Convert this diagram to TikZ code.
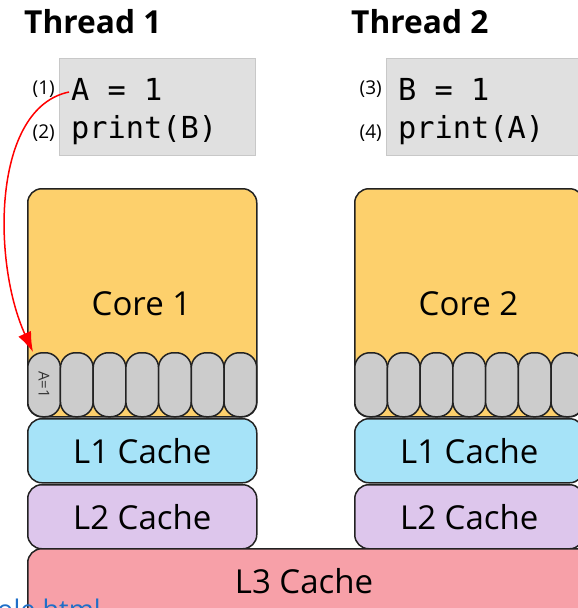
\documentclass[tikz,border=0pt]{standalone}
\usepackage{fontspec}
\setmainfont{Open Sans}
\setmonofont{DejaVu Sans Mono}
\usetikzlibrary{arrows.meta}
\definecolor{corecol}{HTML}{FDD06C}
\definecolor{regcol}{HTML}{CCCCCC}
\definecolor{lonecol}{HTML}{A6E3F8}
\definecolor{ltwocol}{HTML}{DDC6EC}
\definecolor{lthreecol}{HTML}{F7A0A8}
\definecolor{codefill}{HTML}{E0E0E0}
\definecolor{codeedge}{HTML}{C8C8C8}
\definecolor{linkcol}{HTML}{1F6FC8}
\definecolor{edgecol}{HTML}{222222}
\tikzset{
  unitbox/.style={draw=edgecol, line width=1.5pt, rounded corners=14pt,
    inner sep=0pt, anchor=north west, font=\fontsize{33}{35}\selectfont},
  unitlabel/.style={inner sep=0pt, font=\fontsize{33}{35}\selectfont},
  regbox/.style={draw=edgecol, line width=1.5pt, fill=regcol, rounded corners=15pt,
    inner sep=0pt, anchor=north west, minimum width=32.7pt, minimum height=64pt},
  codebox/.style={draw=codeedge, line width=0.8pt, fill=codefill, inner sep=0pt,
    anchor=north west, minimum width=196pt, minimum height=97pt},
  codeline/.style={anchor=west, inner sep=0pt, font=\ttfamily\fontsize{30.3}{32}\selectfont},
  stepnum/.style={anchor=east, inner sep=0pt, font=\fontsize{19}{20}\selectfont},
  threadtitle/.style={anchor=west, inner sep=0pt, font=\bfseries\fontsize{31.7}{33}\selectfont},
}
\begin{document}
\begin{tikzpicture}[x=1pt,y=-1pt]
\useasboundingbox (0,0) rectangle (578,608);
\clip (0,0) rectangle (578,608);

% thread titles
\node[threadtitle] (t1) at (24,22) {Thread 1};
\node[threadtitle] (t2) at (351,22) {Thread 2};

% code listings
\node[codebox] (code1) at (59,58) {};
\node[codebox] (code2) at (386,58) {};
\node[codeline] (a1) at (71,89) {A = 1};
\node[codeline] (a2) at (71,130) {print(B)};
\node[codeline] (b1) at (398,89) {B = 1};
\node[codeline] (b2) at (398,130) {print(A)};
\node[stepnum] (n1) at (55,89) {(1)};
\node[stepnum] (n2) at (55,133) {(2)};
\node[stepnum] (n3) at (382,89) {(3)};
\node[stepnum] (n4) at (382,133) {(4)};

% cores
\node[unitbox, fill=corecol, minimum width=229pt, minimum height=228pt] (core1) at (27,188) {};
\node[unitbox, fill=corecol, minimum width=229pt, minimum height=228pt] (core2) at (354,188) {};
\node[unitlabel] (c1lbl) at (141.5,304) {Core 1};
\node[unitlabel] (c2lbl) at (468.5,304) {Core 2};

% registers
\foreach \i in {0,...,6} {
  \node[regbox] (ra\i) at (27+\i*32.71,352) {};
  \node[regbox] (rb\i) at (354+\i*32.71,352) {};
}
\node[rotate=-90, inner sep=0pt, text=black!80, font=\fontsize{15}{16}\selectfont] (aval) at (ra0.center) {A=1};

% caches
\node[unitbox, fill=lonecol, minimum width=229pt, minimum height=64pt] (l1a) at (27,418) {L1 Cache};
\node[unitbox, fill=lonecol, minimum width=229pt, minimum height=64pt] (l1b) at (354,418) {L1 Cache};
\node[unitbox, fill=ltwocol, minimum width=229pt, minimum height=64pt] (l2a) at (27,484) {L2 Cache};
\node[unitbox, fill=ltwocol, minimum width=229pt, minimum height=64pt] (l2b) at (354,484) {L2 Cache};
\node[unitbox, fill=lthreecol, minimum width=600pt, minimum height=100pt] (l3) at (27,548) {};
\node[unitlabel] (l3lbl) at (304,581) {L3 Cache};

% link fragment
\node[anchor=base west, inner sep=0pt, text=linkcol, font=\fontsize{27}{28}\selectfont] (link) at (-3,619) {ole.html};

% store of A travelling to the register
\coordinate (src) at (69,92);
\coordinate (tip) at (33,352);
\draw[red, line width=1.5pt, -{Latex[length=20pt,width=14pt]}]
  (src) .. controls (-8,108) and (-8,262) .. (tip);
\end{tikzpicture}
\end{document}
